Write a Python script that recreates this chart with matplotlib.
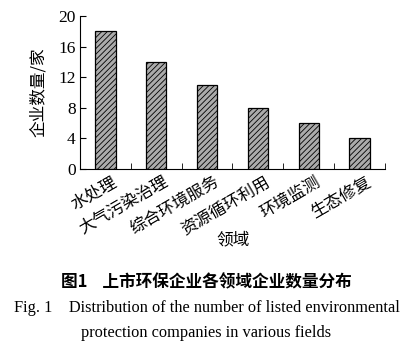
import matplotlib.pyplot as plt
import numpy as np

plt.rcParams['font.family'] = ['Liberation Serif', 'Noto Sans CJK SC']
plt.rcParams['hatch.linewidth'] = 0.6

fields = ['水处理', '大气污染治理', '综合环境服务', '资源循环利用', '环境监测', '生态修复']
counts = [18, 14, 11, 8, 6, 4]
cjk = ['Noto Sans CJK SC']

fig = plt.figure(figsize=(4.13, 3.63), dpi=100)
ax = fig.add_axes([0.1937, 0.5344, 0.7383, 0.4216])

x = np.arange(len(fields))
ax.bar(x, counts, width=0.4, color='#ababab', edgecolor='black',
       linewidth=0.9, hatch='//////')

ax.set_xlim(-0.5, len(fields) - 0.5)
ax.set_ylim(0, 20)
ax.set_yticks(range(0, 21, 4))
ax.tick_params(axis='y', direction='in', length=4, labelsize=12.5, pad=3)

ax.set_xticks(x + 0.12)
ax.set_xticklabels(fields, rotation=30, ha='right', rotation_mode='anchor',
                   fontsize=12, family=cjk)
ax.tick_params(axis='x', length=0, pad=3)
ax.set_xticks(np.arange(len(fields)) + 0.5, minor=True)
ax.tick_params(axis='x', which='minor', direction='in', length=4)

for s in ['top', 'right']:
    ax.spines[s].set_visible(False)

ax.set_ylabel('企业数量/家', family=cjk, fontsize=12, labelpad=8)
fig.text(0.565, 0.338, '领域', family=cjk, fontsize=12, ha='center', va='center')

fig.text(0.5, 0.222, '图1    上市环保企业各领域企业数量分布', family=cjk,
         fontsize=12, fontweight='bold', ha='center', va='center')
fig.text(0.5, 0.152, 'Fig. 1    Distribution of the number of listed environmental',
         fontsize=11.8, ha='center', va='center')
fig.text(0.5, 0.082, 'protection companies in various fields',
         fontsize=11.8, ha='center', va='center')

fig.savefig('out.png', dpi=100)
